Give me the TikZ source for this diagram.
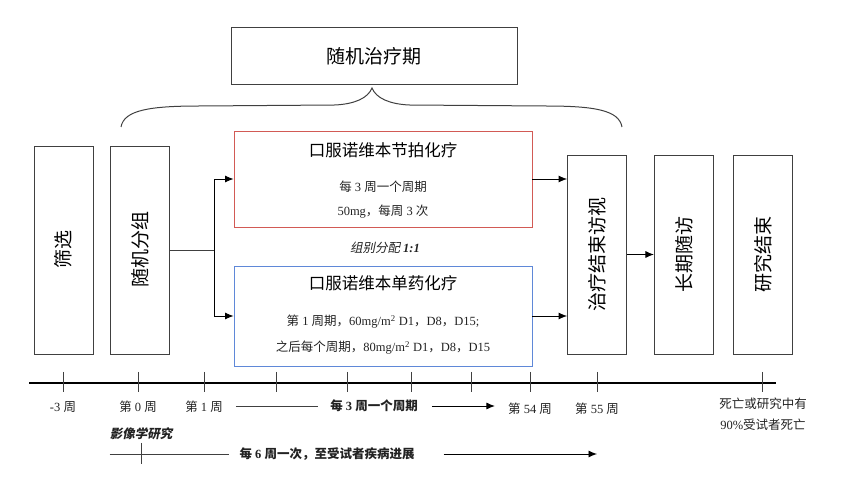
\documentclass[tikz,border=0pt]{standalone}
\usepackage{fontspec}
\setmainfont{Liberation Serif}
\newfontfamily\zhfont{Noto Sans CJK SC}
\newfontfamily\zhslant{Noto Sans CJK SC}[FakeSlant=0.2]
\newcommand{\zh}[1]{{\zhfont #1}}
\newcommand{\zhi}[1]{{\zhslant #1}}
\usetikzlibrary{arrows.meta,positioning}
\definecolor{boxline}{HTML}{404040}
\definecolor{redline}{HTML}{D25A55}
\definecolor{blueline}{HTML}{5F88D8}
\definecolor{inkgray}{HTML}{222222}

\begin{document}
\begin{tikzpicture}[x=1pt, y=-1pt,
  box/.style   = {draw=boxline, line width=0.9pt, inner sep=0pt},
  vbox/.style  = {box, minimum width=59pt, minimum height=199pt},
  armbox/.style= {box, minimum width=298pt},
  vtext/.style = {rotate=90, font=\fontsize{19}{22}\selectfont},
  title/.style = {inner sep=0pt, font=\fontsize{16.5}{19}\selectfont},
  body/.style  = {inner sep=0pt, font=\fontsize{12.5}{14}\selectfont, text=inkgray},
  lbl/.style   = {inner sep=0pt, font=\fontsize{12.5}{15}\selectfont, text=inkgray},
  flow/.style  = {-{Latex[length=8.5pt,width=7pt]}, line width=0.9pt, draw=black},
  link/.style  = {line width=0.8pt, draw=boxline},
  axis/.style  = {line width=2pt, draw=black},
  tick/.style  = {line width=0.8pt, draw=boxline},
]
\useasboundingbox (0,0) rectangle (865,502);

% ---------- period box and brace -------------------------------------------------
\node[box, minimum width=286pt, minimum height=57pt, font=\fontsize{19}{22}\selectfont]
     (period) at (374,56) {\zh{随机治疗期}};
\draw[line width=1pt, draw=boxline]
  (121,127) .. controls (124,110) and (150,106) .. (200,106) -- (335,105)
            .. controls (355,104) and (368,98) .. (372,88)
            .. controls (376,98) and (389,104) .. (409,105) -- (545,106)
            .. controls (594,106) and (619,110) .. (622,127);

% ---------- vertical stage boxes -------------------------------------------------
\node[vbox, minimum height=208pt] (screen) at (63.5,250) {};
\node[vbox, minimum height=208pt, right=17pt of screen] (rand) {};
\node[vbox] (endv) at (597,254.5) {};
\node[vbox, right=27pt of endv]   (follow) {};
\node[vbox, right=19pt of follow] (finish) {};
\node[vtext] at (screen) {\zh{筛选}};
\node[vtext] at (rand)   {\zh{随机分组}};
\node[vtext] at (endv)   {\zh{治疗结束访视}};
\node[vtext] at (follow) {\zh{长期随访}};
\node[vtext] at (finish) {\zh{研究结束}};

% ---------- the two arms ---------------------------------------------------------
\node[armbox, draw=redline, minimum height=96pt]   (metro) at (383,179) {};
\node[armbox, draw=blueline, minimum height=100pt] (mono)  at (383,316) {};
\node[title] at ([yshift=-20pt]metro.north) {\zh{口服诺维本节拍化疗}};
\node[body]  at ([yshift=-56pt]metro.north) {\zh{每} 3 \zh{周一个周期}};
\node[body]  at ([yshift=-81pt]metro.north) {50mg\zh{，每周} 3 \zh{次}};
\node[title] at ([yshift=-18pt]mono.north)  {\zh{口服诺维本单药化疗}};
\node[body]  at ([yshift=-56pt]mono.north)  {\zh{第} 1 \zh{周期，}60mg/m\textsuperscript{2} D1\zh{，}D8\zh{，}D15;};
\node[body]  at ([yshift=-82pt]mono.north)  {\zh{之后每个周期，}80mg/m\textsuperscript{2} D1\zh{，}D8\zh{，}D15};
\node[body] (ratio) at (385,248) {\zhi{组别分配} \textbf{\textit{1:1}}};

\draw[link] (rand.east) -- ++(44,0) coordinate (fork);
\draw[flow] (fork) |- (metro.west);
\draw[flow] (fork) |- (mono.west);
\draw[flow] (metro.east) -- (metro.east -| endv.west);
\draw[flow] (mono.east) -- (mono.east -| endv.west);
\draw[flow] (endv.east) -- (follow.west);

% ---------- time line ------------------------------------------------------------
\draw[axis] (29,383) -- (776,383);
\foreach \x in {63,138,204,276,347,411,471,530,597,762}
  \draw[tick] (\x,372) -- (\x,392);
\node[lbl] (wkm3)  at (63,407)  {-3 \zh{周}};
\node[lbl] (wk0)   at (138,407) {\zh{第} 0 \zh{周}};
\node[lbl] (wk1)   at (204,407) {\zh{第} 1 \zh{周}};
\node[lbl] (cycle) at (374,406) {\textbf{\zh{每} 3 \zh{周一个周期}}};
\node[lbl] (wk54)  at (530,409) {\zh{第} 54 \zh{周}};
\node[lbl] (wk55)  at (597,409) {\zh{第} 55 \zh{周}};
\node[lbl, align=center, font=\fontsize{12.5}{21}\selectfont] (death) at (763,414)
     {\zh{死亡或研究中有}\\90\%\zh{受试者死亡}};
\draw[link] ([xshift=13pt]wk1.east |- cycle) -- ([xshift=-12pt]cycle.west);
\draw[flow] ([xshift=14pt]cycle.east) -- ([xshift=-13pt]cycle.east -| wk54.west);

% ---------- imaging --------------------------------------------------------------
\node[lbl] (imaging) at (141,434) {\textbf{\zhi{影像学研究}}};
\node[lbl] (every6)  at (327,454) {\textbf{\zh{每} 6 \zh{周一次，至受试者疾病进展}}};
\draw[link] (imaging.west |- every6) -- ([xshift=-10pt]every6.west);
\draw[tick] (141,443) -- (141,464);
\draw[flow] ([xshift=29pt]every6.east) -- (every6 -| wk55);

\end{tikzpicture}
\end{document}
